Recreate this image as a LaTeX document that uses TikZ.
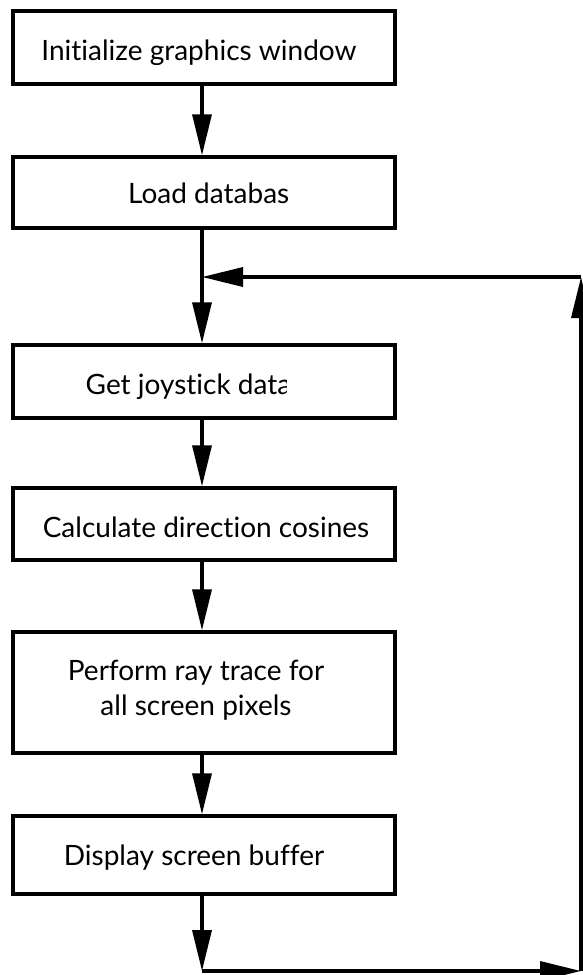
\documentclass[tikz,border=0pt]{standalone}
\usepackage{fontspec}
\setmainfont{Lato}[Ligatures={NoCommon,NoContextual}]
\usetikzlibrary{arrows.meta}
\newcommand\brk{\kern0pt }
\begin{document}
\begin{tikzpicture}[x=1pt,y=-1pt,
  stepbox/.style={draw,line width=3.4pt,minimum width=382pt,inner sep=0pt},
  lbl/.style={anchor=base,inner sep=0pt,font=\fontsize{28}{35}\selectfont},
  flow/.style={line width=3.4pt,-{Triangle[length=41pt,width=19pt]}},
]
\useasboundingbox (0,0) rectangle (583,975);
\coordinate (j) at (202,277);
\coordinate (c1) at (202,971);
\coordinate (c2) at (581,971);
\coordinate (c3) at (581,277);

\node[stepbox,minimum height=73pt] (b1) at (204,47.5) {};
\node[stepbox,minimum height=71pt] (b2) at (204,192.5) {};
\node[stepbox,minimum height=73pt] (b3) at (204,381.5) {};
\node[stepbox,minimum height=72pt] (b4) at (204,524) {};
\node[stepbox,minimum height=121pt] (b5) at (204,692.5) {};
\node[stepbox,minimum height=78pt] (b6) at (204,855) {};

\node[lbl] (t1) at (199,60) {Init\brk ialize graphics window};
\begin{scope}
  \clip (20,160) rectangle (287.5,225);
  \node[lbl,anchor=base west] (t2) at (128,203) {Load database};
\end{scope}
\begin{scope}
  \clip (20,350) rectangle (286,415);
  \node[lbl,anchor=base west] (t3) at (85.5,394) {Get joystick data};
\end{scope}
\node[lbl] (t4) at (206,537) {Calculate direct\brk ion cosines};
\node[lbl,align=center] (t5) at (196,715) {Perform ray trace for\\all screen pixels};
\node[lbl] (t6) at (194,865) {Display screen buffer};

\draw[flow] (b1.south -| j) -- (b2.north -| j);
\draw[flow] (b2.south -| j) -- (b3.north -| j);
\draw[flow] (b3.south -| j) -- (b4.north -| j);
\draw[flow] (b4.south -| j) -- (b5.north -| j);
\draw[flow] (b5.south -| j) -- (b6.north -| j);
\draw[flow] (b6.south -| j) -- (c1);
\draw[flow] (c1) -- (c2);
\draw[flow] (c2) -- (c3);
\draw[flow] (c3) -- (j);
\end{tikzpicture}
\end{document}
